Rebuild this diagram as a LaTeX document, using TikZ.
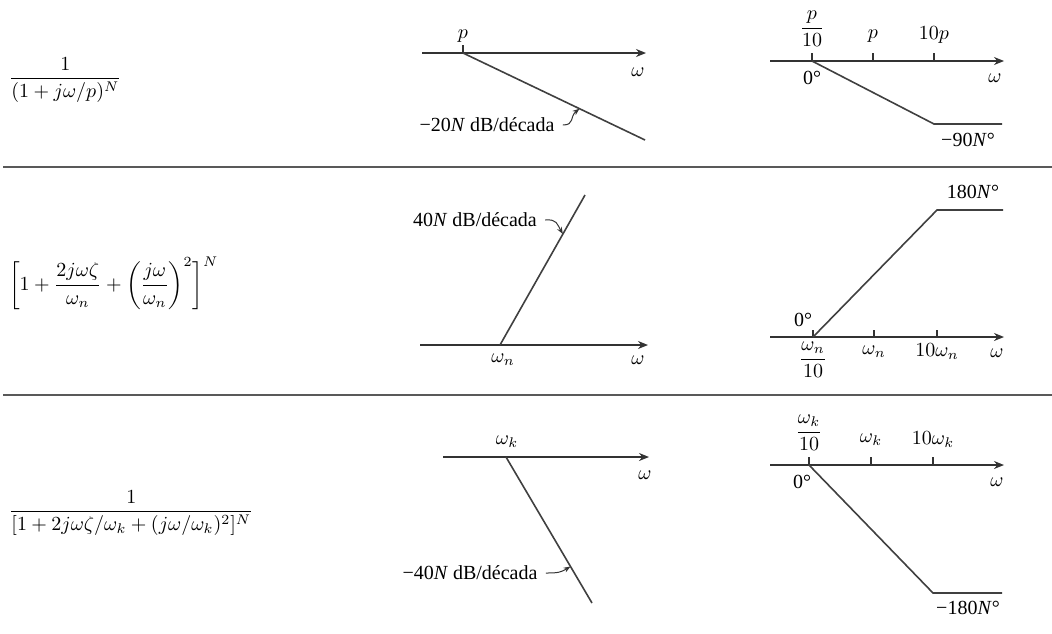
\documentclass[tikz,border=0pt]{standalone}
\usepackage{amsmath}
\usepackage{fontspec}
\setmainfont{Liberation Serif}
\usepackage{tikz}
\usetikzlibrary{arrows.meta,calc}

\tikzset{
    axis/.style={draw=black!80, line width=0.7pt, -{Stealth[length=5pt,width=4pt]}},
    asymp/.style={draw=black!75, line width=0.8pt},
    tickmark/.style={draw=black!80, line width=0.6pt},
    note/.style={draw=black!80, line width=0.5pt, -{Stealth[length=3.5pt,width=2.6pt]}},
    rowrule/.style={draw=black!65, line width=0.8pt},
    lbl/.style={inner sep=1pt}
}

\begin{document}
\begin{tikzpicture}[x=0.5pt, y=-0.5pt]
    \useasboundingbox (0,0) rectangle (1052,633);

    \coordinate (ruleAl) at (3,167);
    \coordinate (ruleAr) at (1052,167);
    \coordinate (ruleBl) at (3,395);
    \coordinate (ruleBr) at (1052,395);
    \draw[rowrule] (ruleAl) -- (ruleAr);
    \draw[rowrule] (ruleBl) -- (ruleBr);

    % funciones
    \node[anchor=west] (fpole) at (2,80) {$\dfrac{1}{(1 + j\omega/p)^N}$};
    \node[anchor=west] (fquad) at (2,283) {$\biggl[1 + \dfrac{2j\omega\zeta}{\omega_n} + \biggl(\dfrac{j\omega}{\omega_n}\biggr)^{2}\biggr]^N$};
    \node[anchor=west] (fqpole) at (2,513) {$\dfrac{1}{[1 + 2j\omega\zeta/\omega_k + (j\omega/\omega_k)^2]^N}$};

    % magnitud, polo
    \coordinate (magAs) at (422,53);
    \coordinate (magAb) at (463,53);
    \coordinate (magAe) at (646,53);
    \coordinate (magAd) at (645,140);
    \draw[axis] (magAs) -- (magAe);
    \draw[tickmark] (magAb) -- ++(0,-8) coordinate (magAt);
    \draw[asymp] (magAb) -- (magAd);
    \node[lbl] (magAp) at (463,36) {$p$};
    \node[lbl] (magAw) at (638,72) {$\omega$};
    \node[lbl] (magAn) at (487,125) {−20\textit{N} dB/década};
    \coordinate (magAk) at ($(magAb)!0.64!(magAd)$);
    \draw[note] ([xshift=3pt]magAn.east) .. controls +(12,0) and +(-10,8) .. (magAk);

    % fase, polo
    \coordinate (phAs) at (770,61);
    \coordinate (phAe) at (1004,61);
    \coordinate (phAa) at (812,61);
    \coordinate (phAb) at (873,61);
    \coordinate (phAc) at (934,61);
    \coordinate (phAf) at (934,124);
    \coordinate (phAg) at (1002,124);
    \draw[axis] (phAs) -- (phAe);
    \foreach \t in {phAa,phAb,phAc}
        \draw[tickmark] (\t) -- ++(0,-8);
    \draw[asymp] (phAa) -- (phAf) -- (phAg);
    \node[lbl] (phAla) at (812,29) {$\dfrac{p}{10}$};
    \node[lbl] (phAlb) at (873,36) {$p$};
    \node[lbl] (phAlc) at (934,35) {$10p$};
    \node[lbl] (phAz) at (812,78) {0°};
    \node[lbl] (phAw) at (995,78) {$\omega$};
    \node[lbl] (phAv) at (968,140) {−90\textit{N}°};

    % magnitud, cuadratico
    \coordinate (magBs) at (420,345);
    \coordinate (magBb) at (500,345);
    \coordinate (magBe) at (648,345);
    \coordinate (magBd) at (585,195);
    \draw[axis] (magBs) -- (magBe);
    \draw[asymp] (magBb) -- (magBd);
    \node[lbl] (magBp) at (503,360) {$\omega_n$};
    \node[lbl] (magBw) at (638,360) {$\omega$};
    \node[lbl] (magBn) at (475,220) {40\textit{N} dB/década};
    \coordinate (magBk) at ($(magBb)!0.74!(magBd)$);
    \draw[note] ([xshift=3pt]magBn.east) .. controls +(12,-1) and +(-6,-10) .. (magBk);

    % fase, cuadratico
    \coordinate (phBs) at (770,337);
    \coordinate (phBe) at (1004,337);
    \coordinate (phBa) at (813,337);
    \coordinate (phBb) at (874,337);
    \coordinate (phBc) at (937,337);
    \coordinate (phBf) at (937,210);
    \coordinate (phBg) at (1003,210);
    \draw[axis] (phBs) -- (phBe);
    \foreach \t in {phBa,phBb,phBc}
        \draw[tickmark] (\t) -- ++(0,-7);
    \draw[asymp] (phBa) -- (phBf) -- (phBg);
    \node[lbl] (phBla) at (813,360) {$\dfrac{\omega_n}{10}$};
    \node[lbl] (phBlb) at (874,352) {$\omega_n$};
    \node[lbl] (phBlc) at (937,352) {$10\omega_n$};
    \node[lbl] (phBz) at (803,320) {0°};
    \node[lbl] (phBw) at (997,353) {$\omega$};
    \node[lbl] (phBv) at (973,192) {180\textit{N}°};

    % magnitud, polo cuadratico
    \coordinate (magCs) at (443,457);
    \coordinate (magCb) at (506,457);
    \coordinate (magCe) at (649,457);
    \coordinate (magCd) at (592,603);
    \draw[axis] (magCs) -- (magCe);
    \draw[asymp] (magCb) -- (magCd);
    \node[lbl] (magCp) at (507,442) {$\omega_k$};
    \node[lbl] (magCw) at (645,475) {$\omega$};
    \node[lbl] (magCn) at (470,573) {−40\textit{N} dB/década};
    \coordinate (magCk) at ($(magCb)!0.75!(magCd)$);
    \draw[note] ([xshift=3pt]magCn.east) .. controls +(12,0) and +(-10,6) .. (magCk);

    % fase, polo cuadratico
    \coordinate (phCs) at (770,465);
    \coordinate (phCe) at (1004,465);
    \coordinate (phCa) at (809,465);
    \coordinate (phCb) at (871,465);
    \coordinate (phCc) at (933,465);
    \coordinate (phCf) at (933,593);
    \coordinate (phCg) at (1002,593);
    \draw[axis] (phCs) -- (phCe);
    \foreach \t in {phCa,phCb,phCc}
        \draw[tickmark] (\t) -- ++(0,-8);
    \draw[asymp] (phCa) -- (phCf) -- (phCg);
    \node[lbl] (phCla) at (809,433) {$\dfrac{\omega_k}{10}$};
    \node[lbl] (phClb) at (871,440) {$\omega_k$};
    \node[lbl] (phClc) at (933,440) {$10\omega_k$};
    \node[lbl] (phCz) at (802,482) {0°};
    \node[lbl] (phCw) at (997,482) {$\omega$};
    \node[lbl] (phCv) at (968,608) {−180\textit{N}°};
\end{tikzpicture}
\end{document}
